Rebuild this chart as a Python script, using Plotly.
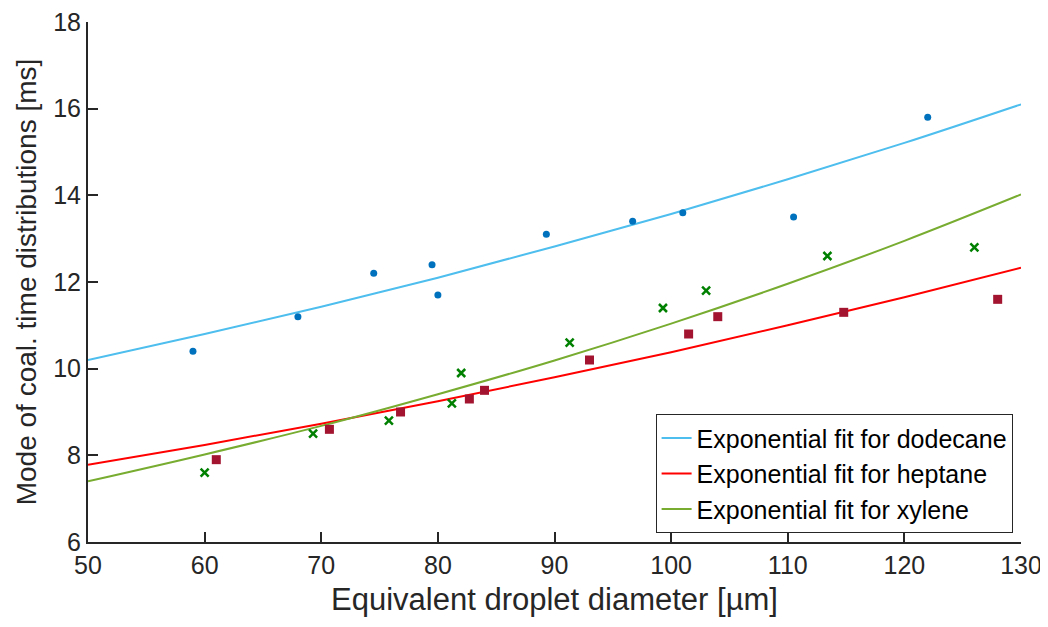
import plotly.graph_objects as go

# measured points
dodecane_x = [59, 68, 74.5, 79.5, 80, 89.3, 96.7, 101, 110.5, 122]
dodecane_y = [10.4, 11.2, 12.2, 12.4, 11.7, 13.1, 13.4, 13.6, 13.5, 15.8]

heptane_x = [61, 70.7, 76.8, 82.7, 84, 93, 101.5, 104, 114.8, 128]
heptane_y = [7.9, 8.6, 9.0, 9.3, 9.5, 10.2, 10.8, 11.2, 11.3, 11.6]

xylene_x = [60, 69.3, 75.8, 81.2, 82, 91.3, 99.3, 103, 113.4, 126]
xylene_y = [7.6, 8.5, 8.8, 9.2, 9.9, 10.6, 11.4, 11.8, 12.6, 12.8]

# fit curves
fit_x = [50, 60, 70, 80, 90, 100, 110, 120, 130]
fit_dodecane = [10.2, 10.8, 11.43, 12.1, 12.82, 13.57, 14.37, 15.21, 16.1]
fit_heptane = [7.78, 8.24, 8.73, 9.25, 9.8, 10.38, 11.0, 11.65, 12.33]
fit_xylene = [7.4, 8.02, 8.68, 9.41, 10.19, 11.04, 11.96, 12.95, 14.02]

fig = go.Figure()

# fit lines (shown in legend)
fig.add_trace(go.Scatter(x=fit_x, y=fit_dodecane, mode='lines', line=dict(color='#4DBEEE', width=2, shape='spline'),
                         name='Exponential fit for dodecane'))
fig.add_trace(go.Scatter(x=fit_x, y=fit_heptane, mode='lines', line=dict(color='#FF0000', width=2, shape='spline'),
                         name='Exponential fit for heptane'))
fig.add_trace(go.Scatter(x=fit_x, y=fit_xylene, mode='lines', line=dict(color='#77AC30', width=2, shape='spline'),
                         name='Exponential fit for xylene'))

# markers
fig.add_trace(go.Scatter(x=dodecane_x, y=dodecane_y, mode='markers', showlegend=False,
                         marker=dict(color='#0072BD', size=7, symbol='circle')))
fig.add_trace(go.Scatter(x=heptane_x, y=heptane_y, mode='markers', showlegend=False,
                         marker=dict(color='#A2142F', size=9, symbol='square')))
fig.add_trace(go.Scatter(x=xylene_x, y=xylene_y, mode='markers', showlegend=False,
                         marker=dict(color='#008000', size=8, symbol='x-thin', line=dict(color='#008000', width=2.5))))

# page body adds ~8px margin, so the figure is a bit smaller than the window
fig.update_layout(
    width=1040, height=619,
    margin=dict(l=80, r=27, t=14, b=85),
    plot_bgcolor='white', paper_bgcolor='white',
    font=dict(family='Liberation Sans, Arial', size=25, color='#262626'),
    legend=dict(x=0.991, y=0.017, xanchor='right', yanchor='bottom',
                bordercolor='#262626', borderwidth=1, bgcolor='white',
                font=dict(size=25, color='black'), tracegroupgap=0, itemwidth=30),
)
fig.update_xaxes(range=[50, 130], tickvals=[50, 60, 70, 80, 90, 100, 110, 120, 130],
                 showgrid=False, zeroline=False, showline=True, linecolor='#262626', linewidth=2,
                 ticks='inside', ticklen=10, tickcolor='#262626', tickwidth=1.5, automargin=False,
                 ticklabeloverflow='allow',
                 title=dict(text='Equivalent droplet diameter [µm]', font=dict(size=31), standoff=10))
fig.update_yaxes(range=[6, 18], tickvals=[6, 8, 10, 12, 14, 16, 18],
                 showgrid=False, zeroline=False, showline=True, linecolor='#262626', linewidth=2,
                 ticks='inside', ticklen=10, tickcolor='#262626', tickwidth=1.5, automargin=False,
                 ticklabeloverflow='allow',
                 title=dict(text='Mode of coal. time distributions [ms]', font=dict(size=28), standoff=8))

fig.write_html("out.html")
